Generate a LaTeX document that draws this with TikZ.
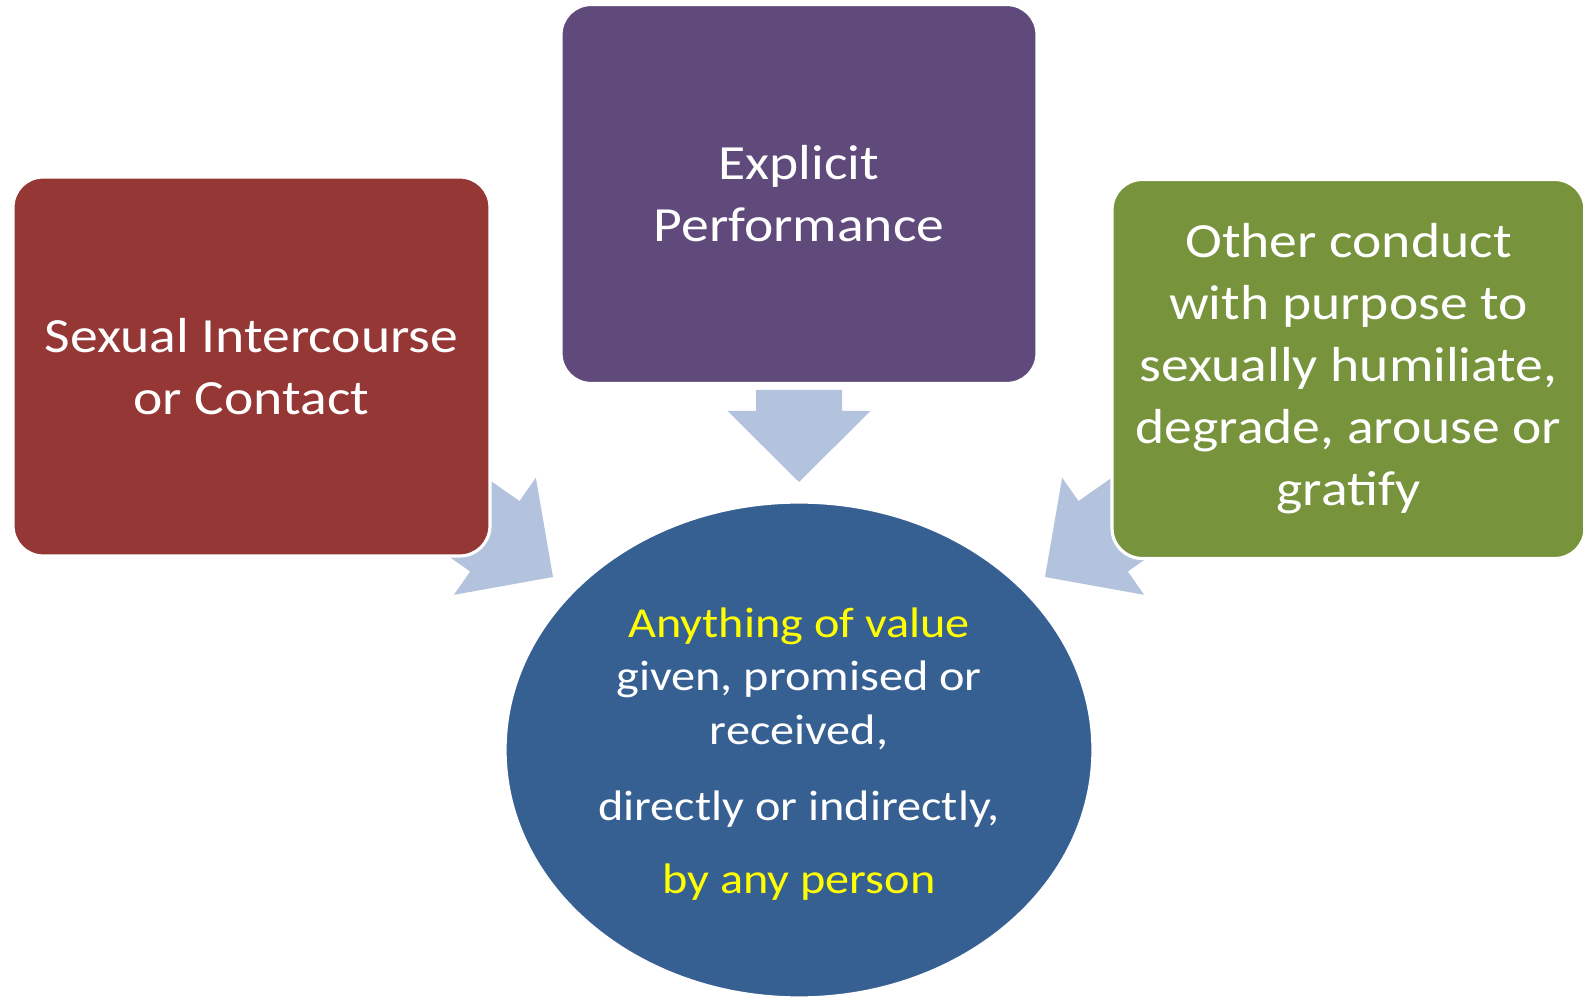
\documentclass[tikz,border=0pt]{standalone}
\usepackage{fontspec}
\setmainfont{Carlito}[FakeStretch=1.13]
\usetikzlibrary{shapes.geometric}
\definecolor{boxred}{HTML}{953735}
\definecolor{boxpurple}{HTML}{604A7B}
\definecolor{boxgreen}{HTML}{77933C}
\definecolor{hubblue}{HTML}{376092}
\definecolor{arrowblue}{HTML}{B3C3DE}
\definecolor{hubyellow}{HTML}{FFFF00}

\begin{document}
\begin{tikzpicture}[x=0.02cm, y=-0.02cm,
  box/.style={draw=white, line width=1.8pt, rounded corners=0.6cm, text=white, align=center,
    minimum height=7.58cm, inner sep=0pt, font=\fontsize{28}{35.3}\selectfont},
  hub/.style={ellipse, draw=white, line width=1.8pt, fill=hubblue, text=white, align=center,
    minimum width=11.76cm, minimum height=9.92cm, inner sep=0pt, font=\fontsize{24.3}{30.5}\selectfont},
  pics/barrow/.style={code={
    \fill[arrowblue] (0,0) -- (71.5,-71) -- (43,-71) -- (43,-#1) -- (-43,-#1) -- (-43,-71) -- (-71.5,-71) -- cycle;}}
  ]

% page size
\useasboundingbox (0,0) rectangle (1583,999);
\clip (0,0) rectangle (1583,999);

% block arrows (under the boxes)
\pic at (799,482) {barrow=92};
\pic[rotate=55] at (553,577) {barrow=160};
\pic[rotate=-55] at (1045,577) {barrow=160};

% the three boxes
\node[box, fill=boxred, minimum width=9.54cm] (contact) at (251.5,366.5) {Sexual Intercourse\\or Contact};
\node[box, fill=boxpurple, minimum width=9.52cm] (perform) at (799,194) {Explicit\\Performance};
\node[box, fill=boxgreen, minimum width=9.46cm] (conduct) at (1348.5,369)
  {Other conduct\\with purpose to\\sexually humiliate,\\degrade, arouse or\\gratify};

% the ellipse in the middle
\node[hub] (value) at (799,750)
  {\\[-9pt]\textcolor{hubyellow}{Anything of value}\\given, promised or\\received,\\[0.45cm]
   directly or indirectly,\\[0.4cm]\textcolor{hubyellow}{by any person}};

\end{tikzpicture}
\end{document}
